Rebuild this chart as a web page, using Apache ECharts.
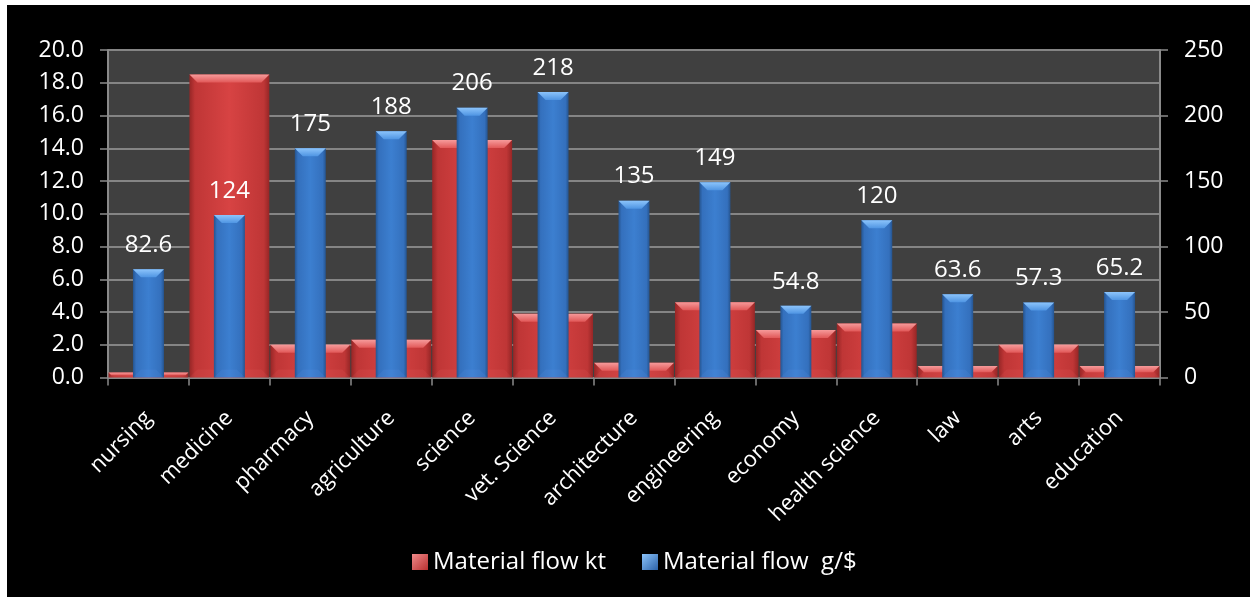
<!DOCTYPE html>
<html>
<head>
<meta charset="utf-8">
<script src="https://cdn.jsdelivr.net/npm/echarts@6/dist/echarts.min.js"></script>
<style>
  html, body { margin: 0; padding: 0; background: #ffffff; }
  #chart { position: absolute; left: 7px; top: 5px; width: 1243px; height: 592px; background: #000000; }
</style>
</head>
<body>
<div id="chart"></div>
<script>
// Categories (faculties) and the two measured series
const categories = ['nursing', 'medicine', 'pharmacy', 'agriculture', 'science', 'vet. Science',
  'architecture', 'engineering', 'economy', 'health science', 'law', 'arts', 'education'];
const flowKt = [0.3, 18.5, 2.0, 2.3, 14.5, 3.9, 0.9, 4.6, 2.9, 3.3, 0.7, 2.0, 0.7];
const flowPerDollar = [82.6, 124, 175, 188, 206, 218, 135, 149, 54.8, 120, 63.6, 57.3, 65.2];
const seriesNames = ['Material flow kt', 'Material flow  g/$'];

const FONT = '"Open Sans", "DejaVu Sans", sans-serif';
const G = echarts.graphic.LinearGradient;

const palette = {
  red: {
    base: '#d04040',
    body: [[0, '#962626'], [0.07, '#bf3636'], [0.5, '#d74343'], [0.93, '#bf3636'], [1, '#962626']],
    top: [[0, '#f69a9a'], [1, '#e15858']],
    bottom: 'rgba(255,120,120,0.10)'
  },
  blue: {
    base: '#3a7acb',
    body: [[0, '#25548f'], [0.1, '#3470bd'], [0.5, '#3c7fd0'], [0.9, '#3470bd'], [1, '#25548f']],
    top: [[0, '#8cc4fb'], [1, '#4f95e3']],
    bottom: 'rgba(120,170,255,0.10)'
  }
};

// Bevelled bar drawn from the axis scales
function bevelBar(pal, widthOf, showValue) {
  return function (params, api) {
    const i = api.value(0);
    const v = api.value(1);
    const top = api.coord([i, v]);
    const base = api.coord([i, 0]);
    const band = api.size([1, 0])[0];
    const w = widthOf(band);
    const x0 = top[0] - w / 2, x1 = top[0] + w / 2;
    const y0 = top[1], y1 = base[1];
    const h = y1 - y0;
    const b = Math.min(8, h * 0.55, w / 2);
    const children = [
      { type: 'rect', shape: { x: x0, y: y0, width: w, height: h },
        style: { fill: new G(0, 0, 1, 0, pal.body.map(s => ({ offset: s[0], color: s[1] }))) } },
      { type: 'polygon', shape: { points: [[x0, y1], [x1, y1], [x1 - b, y1 - b], [x0 + b, y1 - b]] },
        style: { fill: pal.bottom } },
      { type: 'polygon', shape: { points: [[x0, y0], [x1, y0], [x1 - b, y0 + b], [x0 + b, y0 + b]] },
        style: { fill: new G(0, 0, 0, 1, pal.top.map(s => ({ offset: s[0], color: s[1] }))) } }
    ];
    if (showValue) {
      children.push({
        type: 'text',
        style: {
          text: String(v), x: top[0], y: y0 - 12,
          align: 'center', verticalAlign: 'bottom',
          fill: '#ffffff', font: '24px ' + FONT
        }
      });
    }
    return { type: 'group', children: children };
  };
}

const axisGray = '#8a8a8a';

const option = {
  backgroundColor: '#000000',
  textStyle: { fontFamily: FONT },
  animation: false,
  grid: { left: 101, top: 45, right: 90, bottom: 219.5, show: true,
    backgroundColor: '#404040', borderWidth: 0 },
  legend: {
    left: 400, top: 540, itemWidth: 16, itemHeight: 16, itemGap: 36, icon: 'rect',
    textStyle: { color: '#ffffff', fontSize: 24, fontFamily: FONT },
    data: [
      { name: seriesNames[0], itemStyle: { color: new G(0, 0, 1, 1, [{ offset: 0, color: '#f08a8a' }, { offset: 1, color: '#b83030' }]) } },
      { name: seriesNames[1], itemStyle: { color: new G(0, 0, 1, 1, [{ offset: 0, color: '#8cc4fb' }, { offset: 1, color: '#2c62a8' }]) } }
    ]
  },
  xAxis: [
    {
      type: 'category', data: categories, boundaryGap: true,
      axisLine: { lineStyle: { color: axisGray, width: 2 } },
      axisTick: { show: true, length: 8, lineStyle: { color: axisGray, width: 1.5 } },
      axisLabel: { interval: 0, rotate: 45, margin: 37, color: '#ffffff', fontSize: 22, fontFamily: FONT },
      splitLine: { show: false }
    },
    { type: 'category', data: categories, show: false, boundaryGap: true }
  ],
  yAxis: [
    {
      type: 'value', min: 0, max: 20, interval: 2, position: 'left',
      axisLine: { show: true, lineStyle: { color: axisGray, width: 2 } },
      axisTick: { show: true, length: 8, lineStyle: { color: axisGray, width: 1.5 } },
      axisLabel: { color: '#ffffff', fontSize: 23, margin: 24, fontFamily: FONT,
        formatter: v => v.toFixed(1) },
      splitLine: { show: true, lineStyle: { color: '#858585', width: 2 } }
    },
    {
      type: 'value', min: 0, max: 250, interval: 50, position: 'right',
      axisLine: { show: true, lineStyle: { color: axisGray, width: 2 } },
      axisTick: { show: true, length: 8, lineStyle: { color: axisGray, width: 1.5 } },
      axisLabel: { color: '#ffffff', fontSize: 23, margin: 24, fontFamily: FONT },
      splitLine: { show: false }
    }
  ],
  series: [
    {
      name: seriesNames[0], type: 'custom', xAxisIndex: 0, yAxisIndex: 0,
      itemStyle: { color: palette.red.base },
      renderItem: bevelBar(palette.red, band => band - 1, false),
      encode: { x: 0, y: 1 },
      data: flowKt.map((v, i) => [i, v])
    },
    {
      name: seriesNames[1], type: 'custom', xAxisIndex: 1, yAxisIndex: 1,
      itemStyle: { color: palette.blue.base },
      renderItem: bevelBar(palette.blue, () => 31, true),
      encode: { x: 0, y: 1 },
      data: flowPerDollar.map((v, i) => [i, v])
    }
  ]
};

const chart = echarts.init(document.getElementById('chart'), null, { renderer: 'canvas' });
chart.setOption(option);
</script>
</body>
</html>
